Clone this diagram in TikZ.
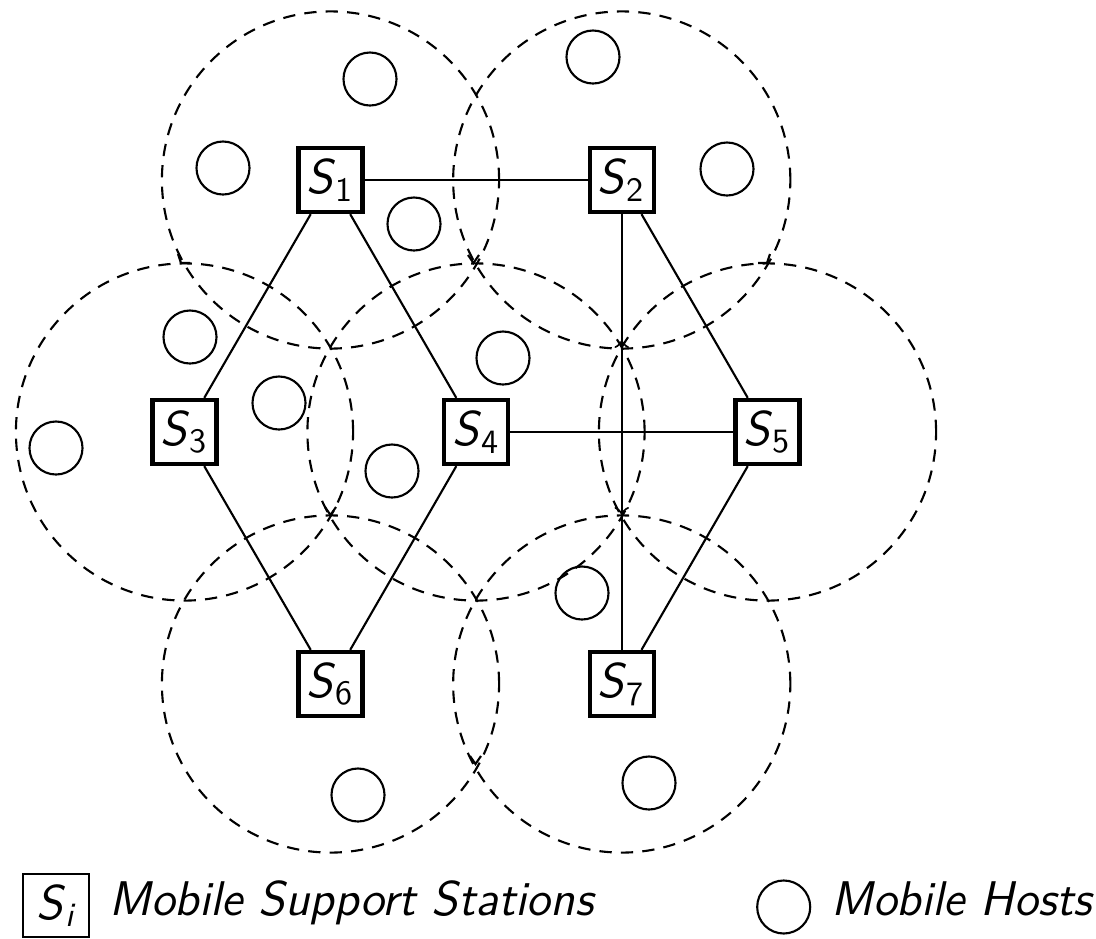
\documentclass[tikz,border=0pt]{standalone}
\usepackage{fontspec}
\usetikzlibrary{decorations.markings}
\newcommand{\stlabel}[1]{\textit{S}\textsubscript{#1}}
\begin{document}
\begin{tikzpicture}[x=0.01cm,y=-0.01cm,
  every node/.style={font=\fontsize{13.85}{16.5}\selectfont\sffamily},
  station/.style={draw, line width=1.2pt, minimum size=0.64cm, inner sep=0pt},
  keybox/.style={draw, line width=0.8pt, minimum width=0.66cm, minimum height=0.63cm, inner sep=0pt},
  host/.style={draw, circle, line width=0.6pt, minimum size=0.53cm, inner sep=0pt},
  link/.style={line width=0.6pt},
  cell/.style={line width=0.6pt, dash pattern=on 3.5pt off 2.6pt},
  tipmark/.style={line width=0.6pt},
  legendtext/.style={anchor=base west, inner sep=0pt, font=\fontsize{13.85}{16.5}\selectfont\sffamily\itshape}
]
\useasboundingbox (0,0) rectangle (1096,939);

% stations
\node[station] (S1) at (330.5,180) {\stlabel{1}};
\node[station] (S2) at (621.75,180) {\stlabel{2}};
\node[station] (S3) at (184.5,432) {\stlabel{3}};
\node[station] (S4) at (476,432) {\stlabel{4}};
\node[station] (S5) at (767.5,432) {\stlabel{5}};
\node[station] (S6) at (330.5,684) {\stlabel{6}};
\node[station] (S7) at (621.75,684) {\stlabel{7}};

% cells
\foreach \s in {S1,S2,S3,S4,S5,S6,S7}
  \draw[cell] (\s.center) circle[radius=1.685cm];

% small tips at cell junctions
\draw[tipmark] (468,255) -- (473.5,263) -- (479,255);
\draw[tipmark] (325,507) -- (330.5,515) -- (336,507);
\draw[tipmark] (470,756) -- (475.5,764) -- (481,756);
\draw[tipmark] (178,254) -- (181,263) -- (190,263);
\draw[tipmark] (770,254) -- (767,263) -- (758,263);

% links
\draw[link] (S1) -- (S2);
\draw[link] (S1) -- (S3);
\draw[link] (S1) -- (S4);
\draw[link] (S2) -- (S5);
\draw[link] (S3) -- (S6);
\draw[link] (S4) -- (S6);
\draw[link] (S4) -- (S5);
\draw[link] (S5) -- (S7);
\draw[link, postaction={decorate}, decoration={markings,
    mark=at position 0.307 with {\arrow{<}},
    mark=at position 0.69 with {\arrow{>}}}] (S2) -- (S7);

% mobile hosts
\node[host] (h1) at (370,79) {};
\node[host] (h2) at (223,168) {};
\node[host] (h3) at (414,224) {};
\node[host] (h4) at (593,57) {};
\node[host] (h5) at (727,169) {};
\node[host] (h6) at (190,337) {};
\node[host] (h7) at (56,448) {};
\node[host] (h8) at (279,403) {};
\node[host] (h9) at (392,471) {};
\node[host] (h10) at (503,358) {};
\node[host] (h11) at (582,593) {};
\node[host] (h12) at (358,795) {};
\node[host] (h13) at (649,783) {};

% legend
\node[keybox] (key) at (56,905.5) {\textit{S}\textsubscript{\itshape i}};
\node[legendtext] (keytext) at (109,915) {Mobile Support Stations};
\node[host] (keyhost) at (783.7,907) {};
\node[legendtext] (hosttext) at (831,915) {Mobile Hosts};
\end{tikzpicture}
\end{document}
